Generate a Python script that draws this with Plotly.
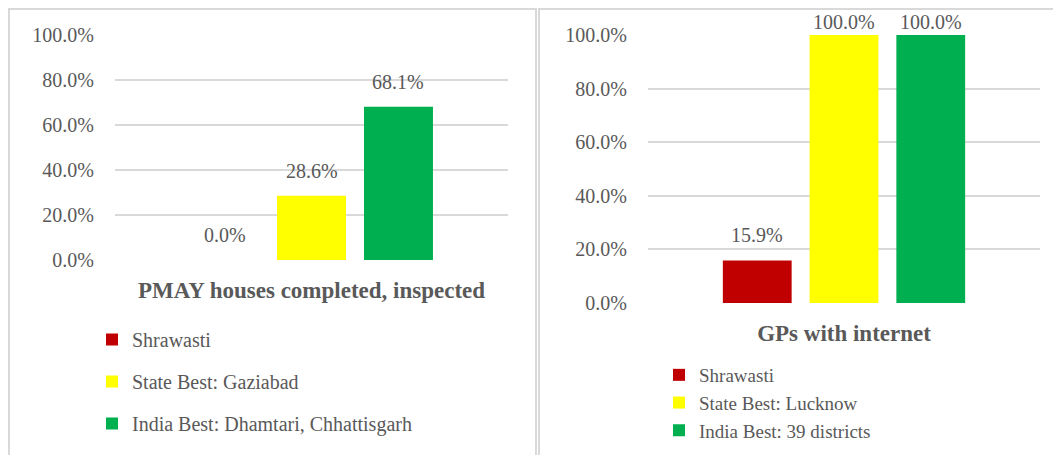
import plotly.graph_objects as go
from plotly.subplots import make_subplots

# data
colors = ["#C00000", "#FFFF00", "#00B050"]

left_category = "PMAY houses completed, inspected"
left_names = ["Shrawasti", "State Best: Gaziabad", "India Best: Dhamtari, Chhattisgarh"]
left_values = [0.0, 0.286, 0.681]

right_category = "GPs with internet"
right_names = ["Shrawasti", "State Best: Lucknow", "India Best: 39 districts"]
right_values = [0.159, 1.0, 1.0]

W, H = 1061, 455
OFF = 8  # the page body margin shifts the figure by 8px
FONT = "Liberation Serif"
GREY = "#595959"
GRID = "#D9D9D9"
BARGAP = 0.336
BARGROUPGAP = 0.207

def px_x(x):
    return (x - OFF) / W

def px_y(y):
    return (H - (y - OFF)) / H

fig = make_subplots(rows=1, cols=2)

def add_panel(col, category, names, values, legend):
    for i, (nm, v) in enumerate(zip(names, values)):
        fig.add_trace(go.Bar(
            x=[category], y=[v], name=nm,
            marker=dict(color=colors[i], line=dict(width=0)),
            legend=legend, legendgroup=f"{legend}{i}",
            hoverinfo="skip",
        ), row=1, col=col)
        # data label above each bar (kept inside the chart area when the bar is full height)
        slot = (1 - BARGAP) / len(values)
        fig.add_annotation(
            x=(i - 1) * slot, y=v, xref=f"x{'' if col == 1 else col}",
            yref=f"y{'' if col == 1 else col}",
            text=f"{v:.1%}", showarrow=False, yanchor="bottom",
            yshift=12 if v < 0.95 else 0,
            font=dict(family=FONT, size=20, color=GREY),
        )

add_panel(1, left_category, left_names, left_values, "legend")
add_panel(2, right_category, right_names, right_values, "legend2")

axis_y = dict(range=[0, 1], tickformat=".1%", tickvals=[0, 0.2, 0.4, 0.6, 0.8, 1.0],
              showgrid=True, gridcolor=GRID, gridwidth=2, zeroline=False,
              showline=False, ticks="", ticklabelstandoff=20,
              tickfont=dict(family=FONT, size=20, color=GREY))
axis_x = dict(showline=False, showgrid=False, ticks="", ticklabelstandoff=14,
              tickfont=dict(family=FONT, size=23, color=GREY, weight="bold"))

fig.update_layout(
    xaxis=dict(domain=[px_x(115), px_x(508)], **axis_x),
    yaxis=dict(domain=[px_y(260), px_y(35)], **axis_y),
    xaxis2=dict(domain=[px_x(648), px_x(1040)], **axis_x),
    yaxis2=dict(domain=[px_y(303), px_y(35)], **axis_y),
)

fig.update_layout(
    width=W, height=H,
    margin=dict(l=0, r=0, t=0, b=0, autoexpand=False),
    paper_bgcolor="white", plot_bgcolor="white",
    barmode="group", bargap=BARGAP, bargroupgap=BARGROUPGAP,
    font=dict(family=FONT, color=GREY),
    legend=dict(x=px_x(92), y=px_y(320), xanchor="left", yanchor="top",
                font=dict(family=FONT, size=20, color=GREY),
                tracegroupgap=13, bgcolor="rgba(0,0,0,0)"),
    legend2=dict(x=px_x(659), y=px_y(356), xanchor="left", yanchor="top",
                 font=dict(family=FONT, size=19, color=GREY),
                 tracegroupgap=0, bgcolor="rgba(0,0,0,0)"),
)

# panel borders
border = dict(color=GRID, width=2)
top = (H - 1) / H
fig.add_shape(type="path", xref="paper", yref="paper",
              path=f"M {1 / W},-0.1 L {1 / W},{top} L {px_x(536)},{top} L {px_x(536)},-0.1",
              line=border)
fig.add_shape(type="path", xref="paper", yref="paper",
              path=f"M {px_x(539)},-0.1 L {px_x(539)},{top} L 1.1,{top}",
              line=border)

fig.write_html("out.html")
